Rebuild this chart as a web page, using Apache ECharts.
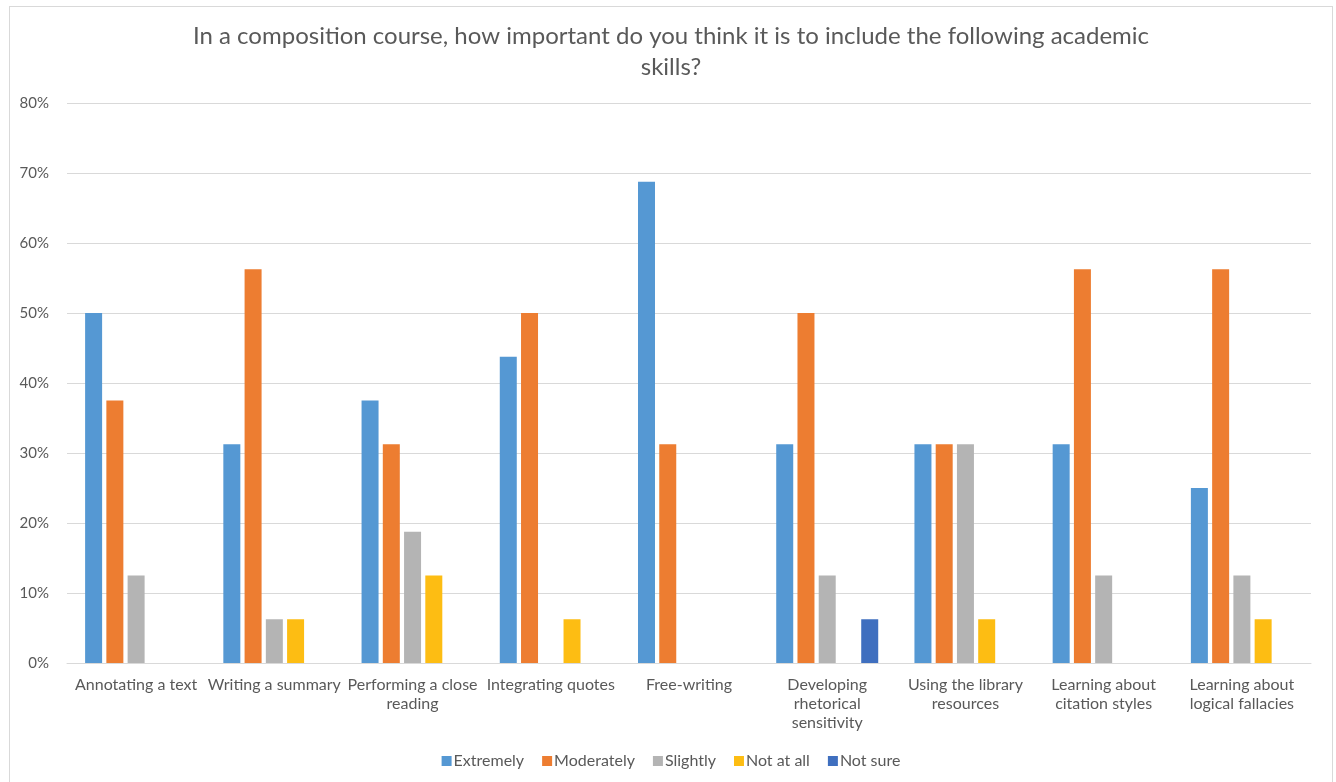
<!DOCTYPE html>
<html>
<head>
<meta charset="utf-8">
<script src="https://cdn.jsdelivr.net/npm/echarts@6/dist/echarts.min.js"></script>
<style>
  html, body { margin: 0; padding: 0; background: #fff; }
  #chart { position: absolute; left: 9px; top: 6px; width: 1324px; height: 790px; border: 1px solid #d9d9d9; box-sizing: border-box; }
</style>
</head>
<body>
<div id="chart"></div>
<script>
var categories = ['Annotating a text', 'Writing a summary', 'Performing a close\nreading', 'Integrating quotes', 'Free-writing',
                  'Developing\nrhetorical\nsensitivity', 'Using the library\nresources', 'Learning about\ncitation styles', 'Learning about\nlogical fallacies'];
var seriesNames = ['Extremely', 'Moderately', 'Slightly', 'Not at all', 'Not sure'];
var extremely  = [50, 31.25, 37.5, 43.75, 68.75, 31.25, 31.25, 31.25, 25];
var moderately = [37.5, 56.25, 31.25, 50, 31.25, 50, 31.25, 56.25, 56.25];
var slightly   = [12.5, 6.25, 18.75, 0, 0, 12.5, 31.25, 12.5, 12.5];
var notAtAll   = [0, 6.25, 12.5, 6.25, 0, 0, 6.25, 0, 6.25];
var notSure    = [0, 0, 0, 0, 0, 6.25, 0, 0, 0];
var yTicks = [0, 10, 20, 30, 40, 50, 60, 70, 80];
var colors = ['#5598d3', '#ed7d31', '#b4b4b4', '#fdbd13', '#3f6fbf'];

var font = 'Lato, "Open Sans", sans-serif';
var values = [extremely, moderately, slightly, notAtAll, notSure];
var series = [];
for (var i = 0; i < seriesNames.length; i++) {
    series.push({
        name: seriesNames[i],
        type: 'bar',
        data: values[i],
        barWidth: 17,
        barGap: '25%',
        itemStyle: { color: colors[i] }
    });
}

var option = {
    animation: false,
    textStyle: { fontFamily: font },
    title: {
        text: 'In a composition course, how important do you think it is to include the following academic\nskills?',
        left: 'center',
        top: 9,
        textStyle: { fontSize: 24, fontWeight: 'normal', color: '#595959', lineHeight: 31, fontFamily: font, align: 'center' }
    },
    legend: {
        data: seriesNames,
        bottom: 21,
        left: 'center',
        itemWidth: 10,
        itemHeight: 10,
        itemGap: 18,
        icon: 'rect',
        textStyle: { fontSize: 16, color: '#595959', fontFamily: font, padding: [0, 0, 0, -3] }
    },
    grid: { left: 57, right: 21, top: 96, bottom: 132, containLabel: false },
    xAxis: {
        type: 'category',
        data: categories,
        axisLine: { lineStyle: { color: '#d9d9d9' } },
        axisTick: { show: false },
        axisLabel: { color: '#595959', fontSize: 16, lineHeight: 19, margin: 12, interval: 0, fontFamily: font }
    },
    yAxis: {
        type: 'value',
        min: 0,
        max: 80,
        interval: 10,
        axisLine: { show: false },
        axisTick: { show: false },
        splitLine: { lineStyle: { color: '#d9d9d9' } },
        axisLabel: {
            color: '#595959', fontSize: 15, margin: 18, fontFamily: font,
            formatter: function (v) { return yTicks.indexOf(v) >= 0 ? v + '%' : ''; }
        }
    },
    series: series
};
echarts.init(document.getElementById('chart')).setOption(option);
</script>
</body>
</html>
